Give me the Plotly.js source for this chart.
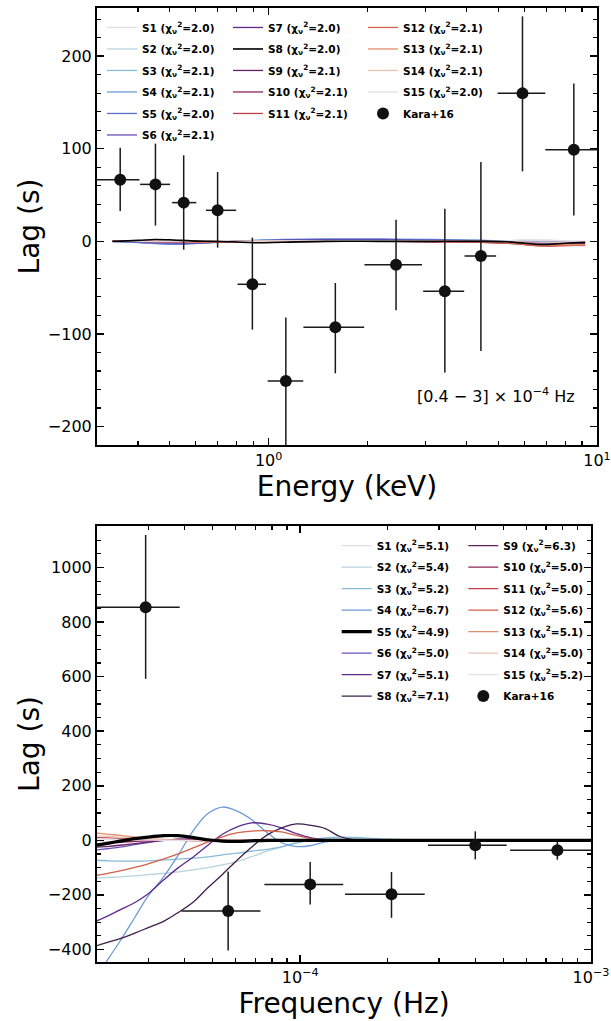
<!DOCTYPE html>
<html><head><meta charset="utf-8">
<script src="https://cdn.plot.ly/plotly-3.0.1.min.js"></script>
<style>html,body{margin:0;padding:0;background:#fff}#chart{width:611px;height:1021px}</style>
</head><body><div id="chart"></div>
<script>
// ---------- series metadata ----------
const seriesNames = ['S1','S2','S3','S4','S5','S6','S7','S8','S9','S10','S11','S12','S13','S14','S15'];
const topChi = ['2.0','2.0','2.1','2.1','2.0','2.1','2.0','2.0','2.1','2.1','2.1','2.1','2.1','2.1','2.0'];
const bottomChi = ['5.1','5.4','5.2','6.7','4.9','5.0','5.1','7.1','6.3','5.0','5.0','5.6','5.1','5.0','5.2'];
const palette = ['#e6dbe8','#b9d3dd','#88bbd9','#6c9bd8','#5b6fcf','#6a50b8','#5b2a8c','#3f1f4a','#65205e','#8c2458','#c03e4c','#d35f4d','#e08d6c','#e7c3b2','#e6dde9'];
const topHighlight = 7;     // S8 drawn in black (top)
const bottomHighlight = 4;  // S5 drawn in black (bottom)

// ---------- top panel: lag-energy ----------
const energyGrid = [0.334,0.40,0.45,0.51,0.58,0.67,0.78,0.9,1.1,1.5,2.2,3.2,4.4,5.3,6.0,7.0,8.0,9.2];
const topModels = [
  [0,0.5,1,0.5,0,-0.5,-0.5,0,0.5,1,1,0.5,0,0.5,1.5,1,0.5,0],
  [0,-0.5,-1,-1.5,-1,-0.5,0,0.5,1,1.5,1.5,1,0.5,0,0.5,0,-0.5,-0.5],
  [0,-1,-2,-2.5,-2,-1,0,1,1.5,2,2,1.5,1,0.5,0,-0.5,-0.5,-1],
  [0,-1.5,-2.5,-3,-2.5,-1.5,0,1,2,2.5,2.5,2,1,0.5,0,-1,-1,-1],
  [0,-1,-2,-3,-2.5,-1.5,-0.5,0.5,1.5,2,2,1.5,1,0,-0.5,-1,-1,-1],
  [0,-0.5,-1.5,-2,-2,-1,0,0.5,1,1.5,1.5,1,0.5,0,-1,-1.5,-1.5,-1.5],
  [0,0,-0.5,-1,-1,-0.5,0,0.5,1,1,1,0.5,0,-0.5,-1.5,-2,-2,-2],
  [0,1,2,1.5,0.5,0,-0.5,-1.5,-1,0,0,0,0,-0.5,-2,-3.5,-2,-1],
  [0,0.5,1,1,0.5,0,-0.5,-0.5,0,0.5,0.5,0,-0.5,-1,-2.5,-4,-3,-2.5],
  [0,0.5,1,0.5,0,-0.5,-1,-1,-0.5,0,0,-0.5,-1,-1.5,-3,-4.5,-4,-3.5],
  [0,0.5,0.5,0,-0.5,-1,-1,-0.5,0,0.5,0,-0.5,-1,-2,-3.5,-5,-4.5,-4],
  [0,0,0,-0.5,-1,-1,-0.5,0,0.5,0.5,0,-0.5,-1,-2,-3.5,-5,-4.5,-4.5],
  [0,0,-0.5,-0.5,-0.5,-0.5,0,0,0.5,0.5,0.5,0,-0.5,-1,-2.5,-4,-3.5,-3.5],
  [0,0,0,0,0,0,0,0.5,0.5,0.5,0.5,0,0,0,-0.5,-1,-1,-1],
  [0,0,0.5,0.5,0,0,0,0,0.5,0.5,0.5,0.5,0,0.5,1.5,1.5,0.5,0]
];
// Kara+16 data (energy bins, lag with bounds)
const karaE    = [0.353,0.452,0.551,0.699,0.892,1.128,1.596,2.443,3.44,4.43,5.93,8.5];
const karaELo  = [0.30,0.406,0.508,0.644,0.804,0.993,1.276,1.958,2.955,3.95,4.98,6.96];
const karaEHi  = [0.404,0.501,0.602,0.796,0.981,1.274,1.954,2.93,3.94,4.93,6.96,10.0];
const karaLag  = [66.6,61.5,41.8,33.5,-46.4,-150.9,-92.9,-25.2,-54.0,-15.8,159.8,99.0];
const karaLagHi= [101,105.5,92.9,74.9,4,-82.2,-45,23.4,35.3,85.6,243,170.5];
const karaLagLo= [32.7,17,-9,-6.8,-95.4,-230,-142.5,-74.5,-141.8,-118.5,75.6,28];

// ---------- bottom panel: lag-frequency ----------
const freqGrid = [2.0e-5,2.2e-5,2.4e-5,2.7e-5,3.0e-5,3.4e-5,3.8e-5,4.3e-5,4.8e-5,5.4e-5,6.1e-5,6.8e-5,7.7e-5,8.6e-5,9.7e-5,1.09e-4,1.22e-4,1.37e-4,1.6e-4,2.0e-4,3.0e-4,4.5e-4,7.0e-4,1.0e-3];
const bottomModels = [
  [-6,-5,-4,-3,-2,-1,0,1,1,0,0,0,0,0,0,0,0,0,0,0,0,0,0,0],
  [-138,-136,-134,-130,-126,-121,-116,-108,-100,-90,-77,-60,-40,-25,-8,2,6,8,6,2,0,0,0,0],
  [-73,-75,-76,-76,-75,-72,-69,-65,-61,-53,-47,-40,-33,-24,-10,0,9,12,10,4,0,0,0,0],
  [-500,-430,-370,-282,-204,-132,-55,37,97,122,106,76,28,-8,-23,-19,-6,-1,0,0,0,0,0,0],
  [-18,-10,-3,6,12,17,17,10,2,-3,-4,-2,0,0,0,0,0,0,0,0,0,0,0,0],
  [-35,-30,-25,-16,-8,0,4,5,3,0,-2,-1,0,0,0,0,0,0,0,0,0,0,0,0],
  [-295,-275,-255,-228,-196,-144,-101,-60,-19,22,50,64,59,46,25,9,2,0,0,0,0,0,0,0],
  [-386,-372,-360,-340,-320,-296,-265,-225,-175,-125,-70,-25,20,45,60,55,43,14,0,0,0,0,0,0],
  [-25,-22,-18,-12,-6,0,3,4,2,0,-1,0,0,0,0,0,0,0,0,0,0,0,0,0],
  [-12,-10,-7,-4,-1,1,2,2,1,0,0,0,0,0,0,0,0,0,0,0,0,0,0,0],
  [10,9,7,5,3,1,0,-1,-1,0,0,0,0,0,0,0,0,0,0,0,0,0,0,0],
  [-128,-120,-112,-99,-86,-68,-50,-27,-7,13,28,34,35,31,18,6,0,0,0,0,0,0,0,0],
  [26,22,18,12,7,3,0,-2,-2,-1,0,0,0,0,0,0,0,0,0,0,0,0,0,0],
  [16,14,11,7,4,1,0,-1,-1,0,0,0,0,0,0,0,0,0,0,0,0,0,0,0],
  [5,4,3,2,1,0,0,0,0,0,0,0,0,0,0,0,0,0,0,0,0,0,0,0]
];
const karaF    = [2.94e-5,5.65e-5,1.082e-4,2.06e-4,4.0e-4,7.66e-4];
const karaFLo  = [2.0e-5,3.9e-5,7.53e-5,1.426e-4,2.75e-4,5.27e-4];
const karaFHi  = [3.85e-5,7.3e-5,1.406e-4,2.68e-4,5.13e-4,1.0e-3];
const karaFLag = [854,-259,-161.5,-198,-18.3,-36.7];
const karaFLagHi=[1119,-114,-79.6,-116,33,-6];
const karaFLagLo=[592,-404,-235,-284,-70,-71];

// ---------- tick labels ----------
const topXTickVals = [1,10];
const topXTickText = ['10<sup>0</sup>','10<sup>1</sup>'];
const topXMinor = [0.3,0.4,0.5,0.6,0.7,0.8,0.9,2,3,4,5,6,7,8,9];
const botXTickVals = [1e-4,1e-3];
const botXTickText = ['10<sup>\u22124</sup>','10<sup>\u22123</sup>'];
const botXMinor = [2e-5,3e-5,4e-5,5e-5,6e-5,7e-5,8e-5,9e-5,2e-4,3e-4,4e-4,5e-4,6e-4,7e-4,8e-4,9e-4];

const FONT = 'DejaVu Sans';
const label = (n, c) => n + ' (\u03c7<sub>\u03bd</sub><sup>2</sup>=' + c + ')';
const traces = [];

// top models
const topCols = [0,0,0,0,0,0,1,1,1,1,1,2,2,2,2];
const botCols = [0,0,0,0,0,0,0,0,1,1,1,1,1,1,1];
const topOrder = [...Array(15).keys()].filter(i => i !== topHighlight).concat([topHighlight]);
topOrder.forEach(i => {
  traces.push({
    x: energyGrid, y: topModels[i], xaxis: 'x', yaxis: 'y', mode: 'lines',
    name: label(seriesNames[i], topChi[i]),
    legend: ['legend','legend2','legend3'][topCols[i]], legendrank: i + 1, legendgroup: 't' + i,
    line: {color: i === topHighlight ? '#000' : palette[i], width: i === topHighlight ? 1.6 : 1.3, shape: 'spline', smoothing: 1},
    hoverinfo: 'skip'
  });
});
const errStyle = {type: 'data', symmetric: false, color: '#1a1a1a', thickness: 1.5, width: 0};
traces.push({
  x: karaE, y: karaLag, xaxis: 'x', yaxis: 'y', mode: 'markers', name: 'Kara+16',
  legend: 'legend3', legendrank: 16, legendgroup: 'tk',
  marker: {size: 12, color: '#111'},
  error_x: Object.assign({}, errStyle, {array: karaEHi.map((v,i)=>v-karaE[i]), arrayminus: karaE.map((v,i)=>v-karaELo[i])}),
  error_y: Object.assign({}, errStyle, {array: karaLagHi.map((v,i)=>v-karaLag[i]), arrayminus: karaLag.map((v,i)=>v-karaLagLo[i])}),
  hoverinfo: 'skip'
});

// bottom models
const botOrder = [...Array(15).keys()].filter(i => i !== bottomHighlight).concat([bottomHighlight]);
botOrder.forEach(i => {
  traces.push({
    x: freqGrid, y: bottomModels[i], xaxis: 'x2', yaxis: 'y2', mode: 'lines',
    name: label(seriesNames[i], bottomChi[i]),
    legend: ['legend4','legend5'][botCols[i]], legendrank: i + 1, legendgroup: 'b' + i,
    line: {color: i === bottomHighlight ? '#000' : palette[i], width: i === bottomHighlight ? 3.2 : 1.3, shape: 'spline', smoothing: 1},
    hoverinfo: 'skip'
  });
});
traces.push({
  x: karaF, y: karaFLag, xaxis: 'x2', yaxis: 'y2', mode: 'markers', name: 'Kara+16',
  legend: 'legend5', legendrank: 16, legendgroup: 'bk',
  marker: {size: 12, color: '#111'},
  error_x: Object.assign({}, errStyle, {array: karaFHi.map((v,i)=>v-karaF[i]), arrayminus: karaF.map((v,i)=>v-karaFLo[i])}),
  error_y: Object.assign({}, errStyle, {array: karaFLagHi.map((v,i)=>v-karaFLag[i]), arrayminus: karaFLag.map((v,i)=>v-karaFLagLo[i])}),
  hoverinfo: 'skip'
});

const axisBase = {
  showline: true, linecolor: '#000', linewidth: 2, mirror: 'allticks',
  ticks: 'inside', ticklen: 7, tickwidth: 1.5, tickcolor: '#000',
  showgrid: false, zeroline: false, automargin: false,
  tickfont: {family: FONT, size: 16, color: '#000'}
};
const minorBase = {ticks: 'inside', ticklen: 4, tickwidth: 1.2, tickcolor: '#000', showgrid: false};
const legBase = {
  bgcolor: 'rgba(0,0,0,0)', borderwidth: 0, xanchor: 'left', yanchor: 'top',
  font: {family: FONT, size: 10.5, color: '#000', weight: 'bold'},
  tracegroupgap: 2.5, itemwidth: 30, orientation: 'v'
};

const layout = {
  width: 611, height: 1021,
  margin: {l: 97, r: 14, t: 8, b: 59},
  paper_bgcolor: '#fff', plot_bgcolor: '#fff',
  font: {family: FONT, size: 16, color: '#000'},
  showlegend: true,
  xaxis: Object.assign({}, axisBase, {
    type: 'log', range: [Math.log10(0.3), 1], domain: [0, 1], anchor: 'y',
    tickmode: 'array', tickvals: topXTickVals, ticktext: topXTickText,
    minor: Object.assign({}, minorBase, {tickmode: 'array', tickvals: topXMinor}),
    title: {text: 'Energy (keV)', font: {family: FONT, size: 28}, standoff: 6}
  }),
  yaxis: Object.assign({}, axisBase, {
    range: [-220, 252], domain: [0.5419, 1], anchor: 'x', dtick: 100, tick0: 0,
    minor: Object.assign({}, minorBase, {dtick: 20}),
    title: {text: 'Lag (s)', font: {family: FONT, size: 28}, standoff: 0}
  }),
  xaxis2: Object.assign({}, axisBase, {
    type: 'log', range: [Math.log10(2e-5), -3], domain: [0, 0.988], anchor: 'y2',
    tickmode: 'array', tickvals: botXTickVals, ticktext: botXTickText,
    minor: Object.assign({}, minorBase, {tickmode: 'array', tickvals: botXMinor}),
    title: {text: 'Frequency (Hz)', font: {family: FONT, size: 28}, standoff: 6}
  }),
  yaxis2: Object.assign({}, axisBase, {
    range: [-446, 1152], domain: [0, 0.457], anchor: 'x2', dtick: 200, tick0: 0,
    minor: Object.assign({}, minorBase, {dtick: 50}),
    title: {text: 'Lag (s)', font: {family: FONT, size: 28}, standoff: 0}
  }),
  legend:  Object.assign({}, legBase, {x: 0.01,  y: 0.9948}),
  legend2: Object.assign({}, legBase, {x: 0.262, y: 0.9948}),
  legend3: Object.assign({}, legBase, {x: 0.532, y: 0.9948}),
  legend4: Object.assign({}, legBase, {x: 0.4794, y: 0.4517}),
  legend5: Object.assign({}, legBase, {x: 0.7326, y: 0.4517}),
  annotations: [{
    xref: 'paper', yref: 'paper', x: 0.96, y: 0.5933, xanchor: 'right', yanchor: 'middle',
    text: '[0.4 \u2212 3] \u00d7 10<sup>\u22124</sup> Hz', showarrow: false,
    font: {family: FONT, size: 16, color: '#000'}
  }]
};

Plotly.newPlot('chart', traces, layout, {displayModeBar: false, staticPlot: true});
</script>
</body></html>
